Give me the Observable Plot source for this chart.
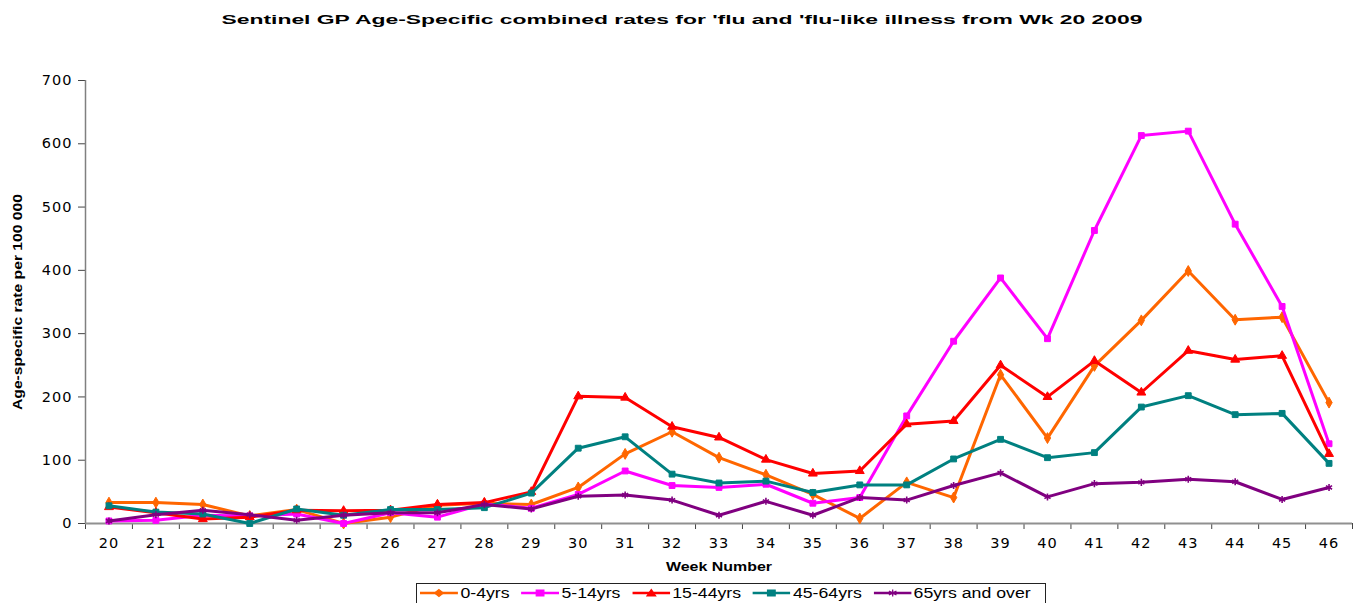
<!DOCTYPE html>
<html>
<head>
<meta charset="utf-8">
<script src="https://cdn.jsdelivr.net/npm/d3@7"></script>
<script src="https://cdn.jsdelivr.net/npm/@observablehq/plot@0.6"></script>
<style>
  html, body { margin: 0; padding: 0; background: #fff; }
  body { width: 1358px; height: 603px; position: relative; overflow: hidden; font-family: "Liberation Sans", Arial, sans-serif; }
  #title { position: absolute; top: 12px; left: 0; width: 1358px; height: 20px; }
  #title span { position: absolute; left: 682px; top: 0; white-space: nowrap; font-weight: bold; font-size: 13px; transform-origin: 0 0; }
  #chart { position: absolute; left: 0; top: 40px; }
  #chart svg text { font-family: "DejaVu Sans", sans-serif; }
  #chart g[aria-label="y-axis tick label"] text, #chart g[aria-label="x-axis tick label"] text { letter-spacing: 1px; font-size: 14.5px; }
  #chart g[aria-label="y-axis label"] text, #chart g[aria-label="x-axis label"] text { font-family: "Liberation Sans", Arial, sans-serif; font-weight: bold; }
  #legend { position: absolute; left: 416px; top: 583px; width: 630px; height: 24px; border: 1px solid #222; box-sizing: border-box; background: #fff; }
  #legend .inner { position: absolute; left: 3px; top: 1px; display: flex; align-items: center; white-space: nowrap; transform-origin: 0 0; font-size: 14px; }
  #legend .item { display: flex; align-items: center; margin-right: 9px; }
  #legend svg { margin-right: 2px; }
</style>
</head>
<body>
<div id="title"><span>Sentinel GP Age-Specific combined rates for 'flu and 'flu-like illness from Wk 20 2009</span></div>
<div id="chart"></div>
<div id="legend"><div class="inner"></div></div>
<script>
const weeks = [20,21,22,23,24,25,26,27,28,29,30,31,32,33,34,35,36,37,38,39,40,41,42,43,44,45,46];
const series = ["0-4yrs","5-14yrs","15-44yrs","45-64yrs","65yrs and over"];
const colors = ["#FF6600","#FF00FF","#FF0000","#008080","#800080"];
const symbols = ["diamond","square","triangle","square","asterisk"];
const age0_4   = [33,33,30,12,22,0,10,29,32,30,57,110,145,104,77,46,8,65,41,235,135,249,321,399,322,326,191];
const age5_14  = [4,5,13,12,15,0,17,10,31,24,46,83,60,57,62,32,41,170,288,388,292,463,613,620,473,343,126];
const age15_44 = [26,17,7,10,21,20,21,30,33,50,201,199,153,136,101,79,83,157,162,250,200,257,207,273,259,265,110];
const age45_64 = [28,18,15,0,23,13,22,22,25,48,119,137,78,64,67,49,61,61,102,133,104,112,184,202,172,174,95];
const age65up  = [4,14,21,14,5,13,17,17,30,23,43,45,37,13,35,13,41,37,60,80,42,63,65,70,66,38,57];
const yTicks = [0,100,200,300,400,500,600,700];
const title = "Sentinel GP Age-Specific combined rates for 'flu and 'flu-like illness from Wk 20 2009";
const yLabel = "Age-specific rate per 100 000";
const xLabel = "Week Number";

const valuesList = [age0_4, age5_14, age15_44, age45_64, age65up];
const data = series.flatMap((s, i) => valuesList[i].map((v, j) => ({series: s, week: weeks[j], value: v})));
const bounds = [weeks[0] - 0.5, ...weeks.map(w => w + 0.5)];

const seriesMarks = series.flatMap((s, i) => {
  const d = data.filter(r => r.series === s);
  return [
    Plot.line(d, {x: "week", y: "value", stroke: colors[i], strokeWidth: 3}),
    Plot.dot(d, {x: "week", y: "value", symbol: () => symbols[i], fill: symbols[i] === "asterisk" ? "none" : colors[i], stroke: colors[i], strokeWidth: symbols[i] === "asterisk" ? 1.6 : 1, r: 3.3})
  ];
});

const chart = Plot.plot({
  width: 1358,
  height: 540,
  marginTop: 40,
  marginBottom: 57,
  marginLeft: 85,
  marginRight: 6,
  style: {fontSize: "14px", color: "#000", background: "white", overflow: "visible"},
  x: {type: "linear", domain: [bounds[0], bounds[bounds.length - 1]]},
  y: {domain: [0, 700]},
  symbol: {domain: symbols, range: symbols},
  marks: [
    Plot.axisY({ticks: yTicks, tickSize: 7, tickPadding: 6, stroke: "#444", label: yLabel, labelAnchor: "center", labelOffset: 72, labelArrow: false}),
    Plot.axisX({ticks: weeks, tickSize: 0, tickPadding: 14, tickFormat: d => String(d), label: xLabel, labelAnchor: "center", labelOffset: 47, labelArrow: false}),
    Plot.axisX({ticks: bounds, tickSize: 6, tickFormat: () => "", label: null, stroke: "#444"}),
    Plot.ruleX([bounds[0]], {stroke: "#808080", strokeWidth: 1.5}),
    Plot.ruleY([0], {stroke: "#909090", strokeWidth: 2}),
    ...seriesMarks
  ]
});
document.getElementById("chart").appendChild(chart);

// title scaling
const t = document.querySelector("#title span");
t.textContent = title;
const tw = t.getBoundingClientRect().width;
const ts = 921 / tw;
t.style.transform = `translateX(${-tw * ts / 2}px) scaleX(${ts})`;

// y label length
const yl = chart.querySelector('g[aria-label="y-axis label"] text');
if (yl) { yl.setAttribute("textLength", 216); yl.setAttribute("lengthAdjust", "spacingAndGlyphs"); yl.style.fontSize = "12px"; }
const xl = chart.querySelector('g[aria-label="x-axis label"] text');
if (xl) { xl.style.fontSize = "13px"; xl.setAttribute("textLength", 106); xl.setAttribute("lengthAdjust", "spacingAndGlyphs"); }

// legend
const inner = document.querySelector("#legend .inner");
const symPath = {
  diamond: "M0,-3.5L3.5,0L0,3.5L-3.5,0Z",
  square: "M-3,-3H3V3H-3Z",
  triangle: "M0,-3.5L3.5,3L-3.5,3Z",
  asterisk: "M0,-3.5V3.5M-3,-2L3,2M-3,2L3,-2"
};
series.forEach((s, i) => {
  const item = document.createElement("div");
  item.className = "item";
  const fill = symbols[i] === "asterisk" ? "none" : colors[i];
  item.innerHTML = `<svg width="30" height="12" viewBox="0 0 30 12"><line x1="0" x2="30" y1="6" y2="6" stroke="${colors[i]}" stroke-width="2.5"/><path transform="translate(15,6)" d="${symPath[symbols[i]]}" fill="${fill}" stroke="${colors[i]}" stroke-width="1"/></svg><span>${s}</span>`;
  inner.appendChild(item);
});
const lw = inner.getBoundingClientRect().width;
inner.style.transform = `scaleX(${622 / lw})`;
</script>
</body>
</html>
